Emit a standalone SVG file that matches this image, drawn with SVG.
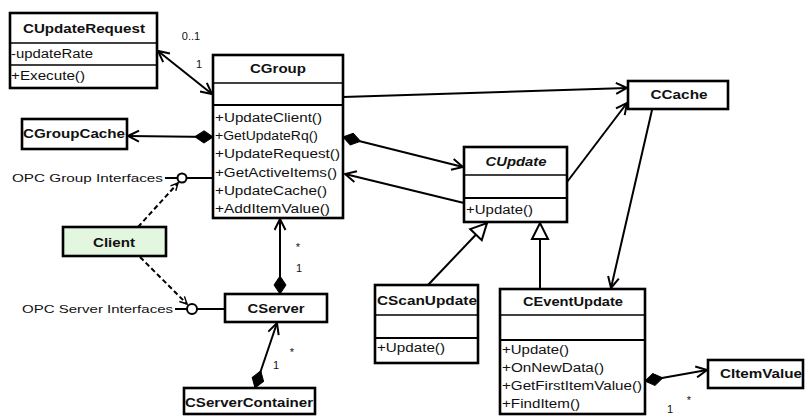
<svg xmlns="http://www.w3.org/2000/svg" width="810" height="417" viewBox="0 0 810 417">
<style>
text{font-family:"Liberation Sans",Arial,sans-serif;fill:#111;font-size:12px}
.t{font-weight:bold;text-anchor:middle}
.it{font-style:italic}
.m{font-size:12px}
.l{font-size:11px}
.box{fill:#fff;stroke:#000;stroke-width:2.6}
.sep{stroke:#000;stroke-width:1.6}
.sep2{stroke:#000;stroke-width:2.2}
.c{fill:none;stroke:#000;stroke-width:2}
.d{fill:none;stroke:#000;stroke-width:2;stroke-dasharray:5,3}
</style>
<defs>
<marker id="arr" viewBox="0 0 13 13" refX="12" refY="6.5" markerWidth="13" markerHeight="13" markerUnits="userSpaceOnUse" orient="auto-start-reverse">
<path d="M1,1 L12,6.5 L1,12" fill="none" stroke="#000" stroke-width="2"/>
</marker>
<marker id="sarr" viewBox="0 0 10 10" refX="9" refY="5" markerWidth="9" markerHeight="9" markerUnits="userSpaceOnUse" orient="auto-start-reverse">
<path d="M1,1 L9,5 L1,9" fill="none" stroke="#000" stroke-width="1.6"/>
</marker>
<marker id="dia" viewBox="0 0 20 14" refX="19" refY="7" markerWidth="20" markerHeight="14" markerUnits="userSpaceOnUse" orient="auto-start-reverse">
<path d="M1,7 L10,1 L19,7 L10,13 z" fill="#000" stroke="#000" stroke-width="1"/>
</marker>
<marker id="tri" viewBox="0 0 20 20" refX="18" refY="10" markerWidth="20" markerHeight="20" markerUnits="userSpaceOnUse" orient="auto">
<path d="M2,2 L18,10 L2,18 z" fill="#fff" stroke="#000" stroke-width="2"/>
</marker>
</defs>

<g id="connectors">
<path class="c" d="M158,51 L212,94" marker-start="url(#arr)" marker-end="url(#arr)"/>
<path class="c" d="M343,97 L627,88" marker-end="url(#arr)"/>
<path class="c" d="M213,137 L128,136" marker-start="url(#dia)" marker-end="url(#arr)"/>
<path class="c" d="M343,137 L463,167" marker-start="url(#dia)" marker-end="url(#arr)"/>
<path class="c" d="M464,203 L345,174" marker-end="url(#arr)"/>
<path class="c" d="M567,182 L627,103" marker-end="url(#arr)"/>
<path class="c" d="M652,110 L611,288" marker-end="url(#arr)"/>
<path class="c" d="M428,285 L487,223" marker-end="url(#tri)"/>
<path class="c" d="M540,289 L540,223" marker-end="url(#tri)"/>
<path class="c" d="M280,294 L280,219" marker-start="url(#dia)" marker-end="url(#arr)"/>
<path class="c" d="M255,388 L277,323" marker-start="url(#dia)" marker-end="url(#arr)"/>
<path class="c" d="M645,381 L707,370" marker-start="url(#dia)" marker-end="url(#arr)"/>
<path class="c" d="M165,178 L177.5,178"/>
<path class="c" d="M186.5,178 L213,178" stroke-width="2.4"/>
<circle cx="182" cy="178" r="4.5" fill="#fff" stroke="#000" stroke-width="2"/>
<path class="c" d="M175,309 L187,309"/>
<path class="c" d="M197,309 L225,309" stroke-width="2.6"/>
<circle cx="192" cy="309" r="5" fill="#fff" stroke="#000" stroke-width="2"/>
<path class="d" d="M138,227 L178,183" marker-end="url(#sarr)"/>
<path class="d" d="M140,257 L187,304" marker-end="url(#sarr)"/>
<text class="l" x="191" y="40" text-anchor="middle">0..1</text>
<text class="l" x="199" y="68" text-anchor="middle">1</text>
<text class="l" x="298" y="251" text-anchor="middle">*</text>
<text class="l" x="299" y="272" text-anchor="middle">1</text>
<text class="l" x="292" y="356" text-anchor="middle">*</text>
<text class="l" x="276" y="369" text-anchor="middle">1</text>
<text class="l" x="670" y="413" text-anchor="middle">1</text>
<text class="l" x="689" y="404" text-anchor="middle">*</text>
<text class="l" x="12" y="182" textLength="151" lengthAdjust="spacingAndGlyphs">OPC Group Interfaces</text>
<text class="l" x="22" y="313" textLength="151" lengthAdjust="spacingAndGlyphs">OPC Server Interfaces</text>
</g>

<g id="CUpdateRequest">
<rect class="box" x="10" y="13" width="147" height="75"/>
<line class="sep" x1="10" y1="43" x2="157" y2="43"/>
<line class="sep" x1="10" y1="65" x2="157" y2="65"/>
<text class="t" x="84" y="33" textLength="122" lengthAdjust="spacingAndGlyphs">CUpdateRequest</text>
<text class="m" x="11" y="58" textLength="82" lengthAdjust="spacingAndGlyphs">-updateRate</text>
<text class="m" x="11" y="80" textLength="74" lengthAdjust="spacingAndGlyphs">+Execute()</text>
</g>

<g id="CGroup">
<rect class="box" x="213" y="55" width="130" height="163"/>
<line class="sep" x1="213" y1="83" x2="343" y2="83"/>
<line class="sep2" x1="213" y1="105" x2="343" y2="105"/>
<text class="t" x="278" y="73" textLength="56" lengthAdjust="spacingAndGlyphs">CGroup</text>
<text class="m" x="215" y="122" textLength="107" lengthAdjust="spacingAndGlyphs">+UpdateClient()</text>
<text class="m" x="215" y="140" textLength="103" lengthAdjust="spacingAndGlyphs">+GetUpdateRq()</text>
<text class="m" x="215" y="158" textLength="125" lengthAdjust="spacingAndGlyphs">+UpdateRequest()</text>
<text class="m" x="215" y="177" textLength="122" lengthAdjust="spacingAndGlyphs">+GetActiveItems()</text>
<text class="m" x="215" y="195" textLength="112" lengthAdjust="spacingAndGlyphs">+UpdateCache()</text>
<text class="m" x="215" y="213" textLength="115" lengthAdjust="spacingAndGlyphs">+AddItemValue()</text>
</g>

<g id="CGroupCache">
<rect class="box" x="22" y="119" width="105" height="30"/>
<text class="t" x="74" y="138" textLength="102" lengthAdjust="spacingAndGlyphs">CGroupCache</text>
</g>

<g id="Client">
<rect class="box" x="63" y="227" width="103" height="29" style="fill:#e3f6df"/>
<text class="t" x="114" y="247" textLength="42" lengthAdjust="spacingAndGlyphs">Client</text>
</g>

<g id="CServer">
<rect class="box" x="225" y="294" width="102" height="28"/>
<text class="t" x="276" y="313" textLength="57" lengthAdjust="spacingAndGlyphs">CServer</text>
</g>

<g id="CServerContainer">
<rect class="box" x="184" y="388" width="131" height="26"/>
<text class="t" x="249" y="407" textLength="128" lengthAdjust="spacingAndGlyphs">CServerContainer</text>
</g>

<g id="CUpdate">
<rect class="box" x="464" y="147" width="103" height="75"/>
<line class="sep" x1="464" y1="175" x2="567" y2="175"/>
<line class="sep2" x1="464" y1="198" x2="567" y2="198"/>
<text class="t it" x="516" y="166" textLength="61" lengthAdjust="spacingAndGlyphs">CUpdate</text>
<text class="m" x="466" y="214" textLength="67" lengthAdjust="spacingAndGlyphs">+Update()</text>
</g>

<g id="CScanUpdate">
<rect class="box" x="375" y="285" width="103" height="78"/>
<line class="sep" x1="375" y1="315" x2="478" y2="315"/>
<line class="sep2" x1="375" y1="338" x2="478" y2="338"/>
<text class="t" x="427" y="305" textLength="100" lengthAdjust="spacingAndGlyphs">CScanUpdate</text>
<text class="m" x="377" y="352" textLength="68" lengthAdjust="spacingAndGlyphs">+Update()</text>
</g>

<g id="CEventUpdate">
<rect class="box" x="500" y="289" width="145" height="125"/>
<line class="sep" x1="500" y1="315" x2="645" y2="315"/>
<line class="sep2" x1="500" y1="340" x2="645" y2="340"/>
<text class="t" x="573" y="306" textLength="100" lengthAdjust="spacingAndGlyphs">CEventUpdate</text>
<text class="m" x="502" y="354" textLength="67" lengthAdjust="spacingAndGlyphs">+Update()</text>
<text class="m" x="502" y="372" textLength="102" lengthAdjust="spacingAndGlyphs">+OnNewData()</text>
<text class="m" x="502" y="390" textLength="140" lengthAdjust="spacingAndGlyphs">+GetFirstItemValue()</text>
<text class="m" x="502" y="408" textLength="78" lengthAdjust="spacingAndGlyphs">+FindItem()</text>
</g>

<g id="CCache">
<rect class="box" x="628" y="81" width="100" height="28"/>
<text class="t" x="679" y="99" textLength="57" lengthAdjust="spacingAndGlyphs">CCache</text>
</g>

<g id="CItemValue">
<rect class="box" x="708" y="360" width="95" height="28"/>
<text class="t" x="761" y="378" textLength="82" lengthAdjust="spacingAndGlyphs">CItemValue</text>
</g>
</svg>
